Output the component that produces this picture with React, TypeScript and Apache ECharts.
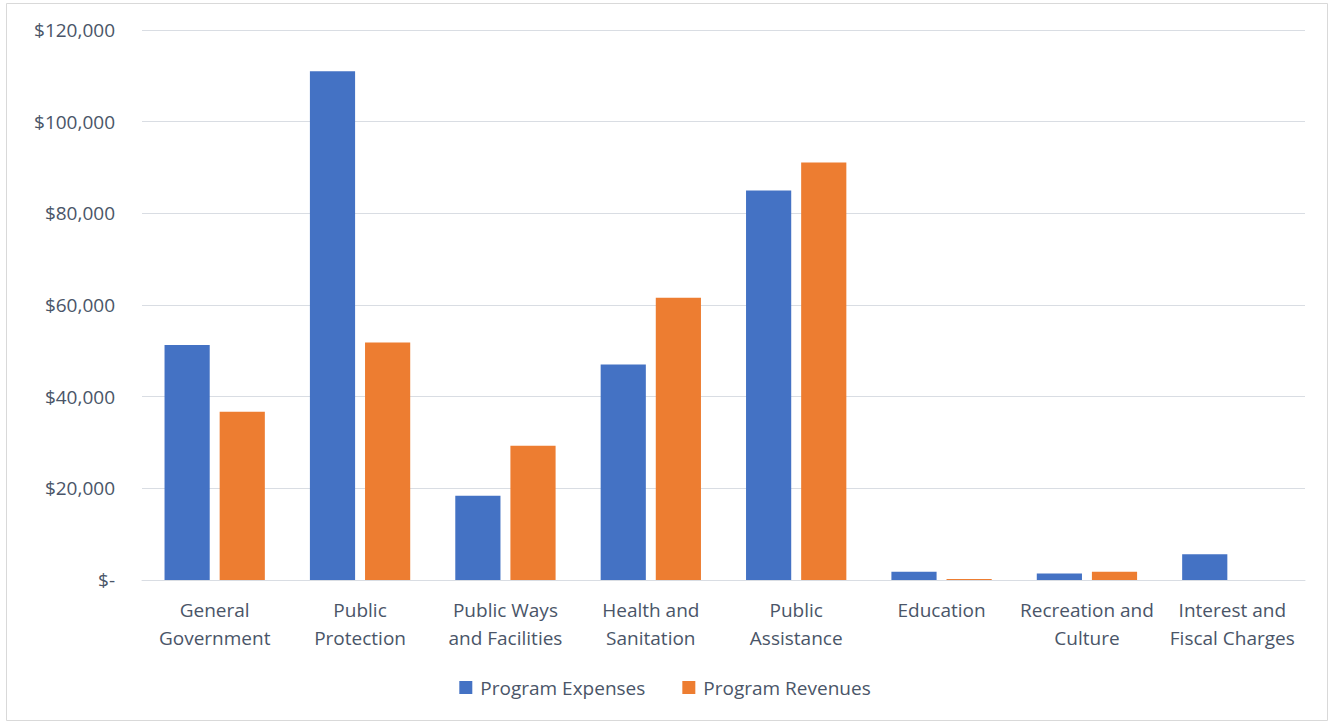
import React, { useEffect, useRef } from "react";
import * as echarts from "echarts";

const categories = [
  "General\nGovernment",
  "Public\nProtection",
  "Public Ways\nand Facilities",
  "Health and\nSanitation",
  "Public\nAssistance",
  "Education",
  "Recreation and\nCulture",
  "Interest and\nFiscal Charges",
];

const programExpenses = [51300, 111000, 18400, 47000, 85000, 1800, 1400, 5600];
const programRevenues = [36700, 51800, 29300, 61600, 91100, 200, 1800, 0];

const yTicks = { min: 0, max: 120000, interval: 20000 };

const FONT = "'Open Sans', sans-serif";
const TEXT = "#4a5568";
const GRID = "#d9dde3";
const SIZE = 19;

function money(v: number): string {
  if (v === 0) return "$-";
  return "$" + v.toLocaleString("en-US");
}

export default function App() {
  const ref = useRef<HTMLDivElement>(null);

  useEffect(() => {
    if (!ref.current) return;
    const chart = echarts.init(ref.current, undefined, { renderer: "svg" });
    chart.setOption({
      animation: false,
      backgroundColor: "#ffffff",
      grid: { left: 142, right: 25, top: 30, bottom: 143 },
      graphic: [
        {
          type: "rect",
          shape: { x: 6.5, y: 3.5, width: 1321, height: 717 },
          style: { fill: "none", stroke: "#d9d9d9", lineWidth: 1 },
          silent: true,
        },
      ],
      legend: {
        bottom: 21,
        left: "center",
        itemWidth: 13,
        itemHeight: 13,
        itemGap: 37,
        icon: "rect",
        textStyle: { color: TEXT, fontSize: SIZE, fontFamily: FONT, padding: [0, 0, 0, 3] },
        data: ["Program Expenses", "Program Revenues"],
      },
      xAxis: {
        type: "category",
        data: categories,
        axisTick: { show: false },
        axisLine: { lineStyle: { color: GRID, width: 1 } },
        axisLabel: {
          color: TEXT,
          fontSize: SIZE,
          fontFamily: FONT,
          lineHeight: 28,
          margin: 16,
          interval: 0,
        },
      },
      yAxis: {
        type: "value",
        min: yTicks.min,
        max: yTicks.max,
        interval: yTicks.interval,
        axisLine: { show: false },
        axisTick: { show: false },
        splitLine: { lineStyle: { color: GRID, width: 1 } },
        axisLabel: {
          color: TEXT,
          fontSize: SIZE,
          fontFamily: FONT,
          margin: 27,
          formatter: (v: number) => money(v),
        },
      },
      series: [
        {
          name: "Program Expenses",
          type: "bar",
          data: programExpenses,
          itemStyle: { color: "#4472C4" },
          barGap: "22%",
          barCategoryGap: "31%",
        },
        {
          name: "Program Revenues",
          type: "bar",
          data: programRevenues,
          itemStyle: { color: "#ED7D31" },
          barGap: "22%",
          barCategoryGap: "31%",
        },
      ],
    });
    return () => chart.dispose();
  }, []);

  return (
    <div
      ref={ref}
      style={{ position: "fixed", left: 0, top: 0, width: 1330, height: 723 }}
    />
  );
}
